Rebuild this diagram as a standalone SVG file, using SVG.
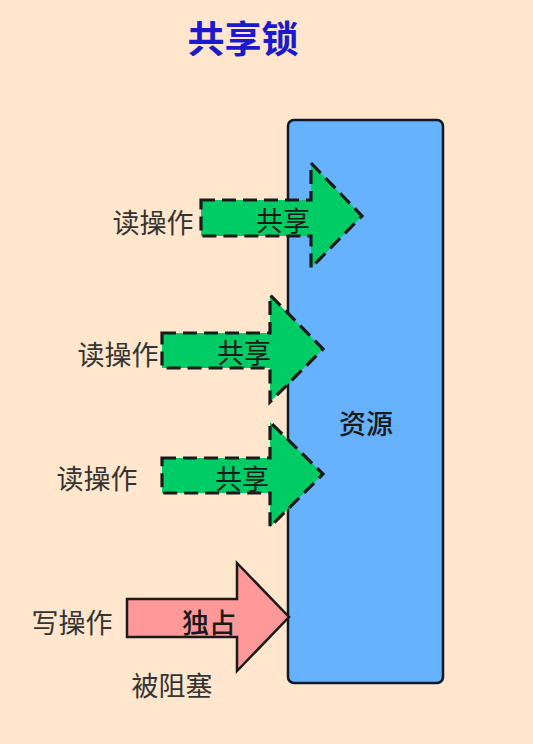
<svg xmlns="http://www.w3.org/2000/svg" width="533" height="744" viewBox="0 0 533 744">
<style>
.lbl{font-family:"Noto Sans CJK SC","Noto Sans",sans-serif;font-size:27px;fill:#333333;text-anchor:middle;dominant-baseline:central}
.in{font-family:"Noto Sans CJK SC","Noto Sans",sans-serif;font-size:27px;fill:#1a1a1a;text-anchor:middle;dominant-baseline:central}
.share{fill:#00CC66;stroke:#1a1a1a;stroke-width:3.2;stroke-dasharray:14 7;stroke-linejoin:miter}
.excl{fill:#FF9999;stroke:#1a1a1a;stroke-width:2.5;stroke-linejoin:miter}
</style>
<rect width="533" height="744" fill="#FFE6CC"/>
<text x="243" y="37" font-family="'Noto Sans CJK SC','Noto Sans',sans-serif" font-size="37" font-weight="bold" fill="#1a1acc" text-anchor="middle" dominant-baseline="central">共享锁</text>
<g id="resource">
<rect x="288" y="120" width="155" height="563" rx="6" fill="#66B2FF" stroke="#111827" stroke-width="2.5"/>
<text class="in" x="366" y="422" font-weight="500">资源</text>
</g>
<g id="connectors">
<g id="read1">
<path class="share" d="M201 200 H311 V163 L362 216 L311 268 V236 H201 Z"/>
<text class="in" x="283" y="219">共享</text>
</g>
<g id="read2">
<path class="share" d="M162 333 H270 V295 L323 349 L270 402 V368 H162 Z"/>
<text class="in" x="244" y="351">共享</text>
</g>
<g id="read3">
<path class="share" d="M162 458 H270 V422 L323 474 L270 527 V493 H162 Z"/>
<text class="in" x="242" y="477">共享</text>
</g>
<g id="write">
<path class="excl" d="M127 599 H237 V563 L289 617 L237 671 V637 H127 Z"/>
<text class="in" x="209" y="621" font-weight="500">独占</text>
</g>
</g>
<g id="labels">
<text class="lbl" x="153" y="221">读操作</text>
<text class="lbl" x="118" y="353">读操作</text>
<text class="lbl" x="97" y="477">读操作</text>
<text class="lbl" x="72" y="621">写操作</text>
<text class="lbl" x="172" y="684">被阻塞</text>
</g>
</svg>
